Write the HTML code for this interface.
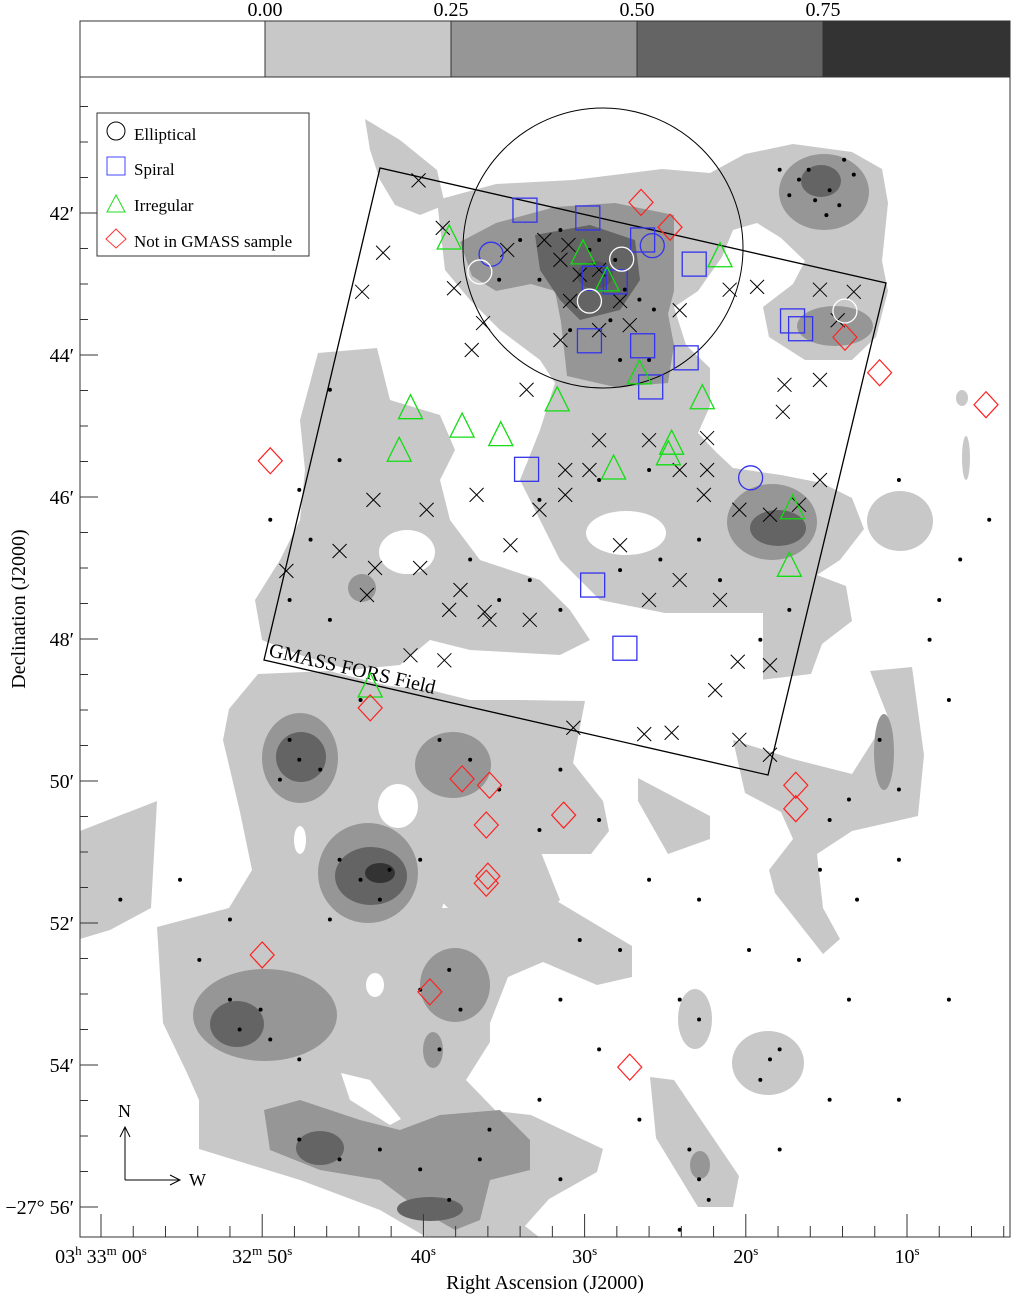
<!DOCTYPE html>
<html><head><meta charset="utf-8"><style>
html,body{margin:0;padding:0;background:#fff;}
svg{display:block;font-family:"Liberation Serif",serif;}
</style></head><body>
<svg id="chart" width="1011" height="1295" viewBox="0 0 1011 1295" xmlns="http://www.w3.org/2000/svg">
<defs><clipPath id="pc"><rect x="80" y="77" width="930" height="1160"/></clipPath></defs>
<g id="colorbar">
 <rect x="80" y="21" width="185" height="56" fill="#ffffff" stroke="#333"/>
 <rect x="265" y="21" width="186" height="56" fill="#c8c8c8" stroke="#333"/>
 <rect x="451" y="21" width="186" height="56" fill="#969696" stroke="#333"/>
 <rect x="637" y="21" width="186" height="56" fill="#646464" stroke="#333"/>
 <rect x="823" y="21" width="187" height="56" fill="#333333" stroke="#333"/>
 <g font-size="20" text-anchor="middle" fill="#000">
  <text x="265" y="16">0.00</text>
  <text x="451" y="16">0.25</text>
  <text x="637" y="16">0.50</text>
  <text x="823" y="16">0.75</text>
 </g>
</g>
<g clip-path="url(#pc)">
 <g fill="#c8c8c8">
  <path d="M365,119 L400,140 L437,170 L445,205 L420,215 L395,205 L380,180 L370,150Z"/>
  <path d="M437,200 L496,184 L573,180 L662,169 L710,173 L745,154 L793,144 L852,152 L882,169 L888,203 L882,261 L888,291 L876,337 L852,360 L805,360 L769,337 L763,307 L793,284 L805,261 L781,238 L757,223 L733,230 L722,257 L698,291 L674,307 L686,345 L710,368 L710,406 L698,433 L716,452 L733,468 L781,475 L822,483 L852,498 L864,529 L840,560 L817,575 L846,586 L852,621 L822,644 L811,674 L760,680 L720,660 L700,620 L650,610 L600,600 L560,560 L540,520 L520,480 L540,430 L555,383 L540,360 L500,330 L470,300 L445,270Z"/>
  <path d="M318,353 L377,348 L390,400 L440,415 L455,450 L440,480 L450,520 L480,560 L540,580 L570,610 L590,640 L560,655 L470,650 L430,640 L400,665 L350,670 L300,655 L262,640 L255,600 L280,560 L300,520 L305,470 L300,420Z"/>
  <path d="M229,709 L258,674 L329,671 L389,686 L430,690 L470,700 L520,700 L585,701 L573,763 L603,801 L609,831 L591,854 L531,854 L496,847 L454,870 L442,908 L466,908 L531,877 L555,900 L632,946 L632,977 L597,985 L543,962 L508,977 L490,1023 L490,1042 L466,1080 L496,1111 L531,1115 L603,1149 L597,1172 L549,1199 L525,1226 L549,1245 L440,1245 L380,1210 L300,1180 L199,1149 L199,1100 L187,1073 L163,1023 L157,927 L229,908 L252,870 L240,812 L223,740Z"/>
  <path d="M440,840 L540,850 L560,900 L530,930 L470,930 L440,900Z"/>
  <path d="M80,831 L157,801 L151,908 L110,930 L80,939Z"/>
  <path d="M638,778 L710,816 L710,839 L668,854 L638,801Z"/>
  <path d="M733,740 L793,759 L852,774 L888,717 L870,671 L912,667 L924,755 L918,816 L852,831 L817,854 L823,908 L840,939 L823,954 L775,893 L769,870 L793,839 L781,812 L745,793Z"/>
  <ellipse cx="695" cy="1019" rx="17" ry="30"/>
  <ellipse cx="768" cy="1063" rx="36" ry="32"/>
  <path d="M650,1077 L674,1080 L739,1176 L733,1207 L698,1207 L656,1138Z"/>
  <ellipse cx="900" cy="521" rx="33" ry="30"/>
  <ellipse cx="962" cy="398" rx="6" ry="8"/>
  <ellipse cx="966" cy="458" rx="4" ry="22"/>
 </g>
 <g fill="#fff">
  <ellipse cx="626" cy="533" rx="40" ry="22"/>
  <ellipse cx="495" cy="458" rx="33" ry="20"/>
  <ellipse cx="407" cy="552" rx="28" ry="22"/>
  <path d="M615,613 L763,613 L763,680 L615,680Z"/>
  <ellipse cx="398" cy="806" rx="20" ry="22"/>
  <ellipse cx="375" cy="985" rx="9" ry="12"/>
  <ellipse cx="300" cy="840" rx="6" ry="14"/>
  <path d="M341,1073 L370,1080 L401,1119 L390,1125 L350,1100Z"/>
 </g>
 <g fill="#969696">
  <path d="M460,242 L496,223 L555,207 L615,203 L674,215 L674,291 L668,314 L674,345 L668,383 L615,387 L567,376 L561,322 L555,291 L531,284 L496,291 L472,276Z"/>
  <ellipse cx="824" cy="192" rx="45" ry="38"/>
  <ellipse cx="835" cy="326" rx="38" ry="20"/>
  <ellipse cx="772" cy="522" rx="45" ry="38"/>
  <ellipse cx="362" cy="588" rx="14" ry="14"/>
  <ellipse cx="300" cy="758" rx="38" ry="45"/>
  <ellipse cx="453" cy="765" rx="38" ry="33"/>
  <ellipse cx="368" cy="873" rx="50" ry="50"/>
  <ellipse cx="455" cy="985" rx="35" ry="37"/>
  <ellipse cx="265" cy="1015" rx="72" ry="46"/>
  <path d="M264,1110 L300,1100 L360,1120 L400,1130 L440,1115 L500,1110 L530,1140 L530,1170 L490,1180 L480,1220 L455,1230 L420,1210 L380,1180 L320,1170 L270,1150Z"/>
  <ellipse cx="884" cy="752" rx="10" ry="38"/>
  <ellipse cx="433" cy="1050" rx="10" ry="18"/>
  <ellipse cx="700" cy="1165" rx="10" ry="14"/>
 </g>
 <g fill="#646464">
  <path d="M535,235 L590,225 L635,240 L640,280 L620,310 L580,320 L560,300 L540,270Z"/>
  <ellipse cx="821" cy="181" rx="20" ry="16"/>
  <ellipse cx="778" cy="528" rx="28" ry="18"/>
  <ellipse cx="301" cy="757" rx="25" ry="25"/>
  <ellipse cx="371" cy="876" rx="36" ry="29"/>
  <ellipse cx="237" cy="1024" rx="27" ry="23"/>
  <ellipse cx="320" cy="1148" rx="24" ry="17"/>
  <ellipse cx="430" cy="1209" rx="33" ry="12"/>
 </g>
 <g fill="#333"><ellipse cx="380" cy="873" rx="15" ry="10"/><ellipse cx="595" cy="275" rx="18" ry="14" fill="#555"/></g>
</g>
<g id="overlays" fill="none" stroke="#000">
 <polygon points="380,168 886,283 768,775 264,660" stroke-width="1.3"/>
 <circle cx="603" cy="248" r="140" stroke-width="1"/>
 <text x="268" y="656" font-size="20" fill="#000" stroke="none" transform="rotate(12.9 268 656)">GMASS FORS Field</text>
</g>
<g id="marks" clip-path="url(#pc)"></g>
<g id="axes"></g>
<g>
 <rect x="97" y="113" width="212" height="143" fill="#fff" stroke="#333"/>
 <circle cx="116" cy="131" r="9" fill="none" stroke="#000"/>
 <text x="134" y="140" font-size="17">Elliptical</text>
 <rect x="107" y="157" width="18" height="18" fill="none" stroke="#4444ff"/>
 <text x="134" y="175" font-size="17">Spiral</text>
 <polygon points="116,195 107,212 125,212" fill="none" stroke="#22dd22"/>
 <text x="134" y="211" font-size="17">Irregular</text>
 <polygon points="116,229 126,239 116,248 106,239" fill="none" stroke="#ff3333"/>
 <text x="134" y="247" font-size="17">Not in GMASS sample</text>
</g>
<g stroke="#000" fill="none">
 <path d="M125,1180 L125,1127 M120,1137 L125,1127 L130,1137 M125,1180 L180,1180 M170,1175 L180,1180 L170,1185"/>
 <text x="118" y="1117" font-size="18" fill="#000" stroke="none">N</text>
 <text x="189" y="1186" font-size="18" fill="#000" stroke="none">W</text>
</g>
</svg>
<script>
// RA = seconds after 03h32m (60 = 03h33m00s); Dec = arcmin below -27°
const ellBlueRA=[35.8,25.8,19.7], ellBlueDec=[42.58,42.46,45.73];
const ellWhiteRA=[27.7,29.7,13.85,36.5], ellWhiteDec=[42.65,43.24,43.38,42.83];
const spiralRA=[33.7,29.8,26.4,23.2,28.1,29.4,17.1,16.6,29.7,26.4,23.7,25.9,33.6,29.5,27.5];
const spiralDec=[41.96,42.07,42.38,42.72,42.97,42.92,43.52,43.63,43.8,43.87,44.04,44.45,45.61,47.24,48.13];
const irrRA=[38.4,30.1,28.6,21.6,26.6,22.7,31.7,40.8,37.6,35.2,41.5,24.6,24.8,28.2,17.1,17.3,43.3];
const irrDec=[42.38,42.59,42.97,42.63,44.28,44.63,44.66,44.77,45.03,45.15,45.37,45.27,45.42,45.62,46.18,46.99,48.69];
const notRA=[26.4,26.5,24.7,13.85,11.7,5.1,49.5,43.3,37.6,35.9,36.1,31.3,16.9,16.9,36.0,36.1,50.0,39.6,27.2];
const notDec=[39.07,41.85,42.2,43.75,44.25,44.70,45.49,48.97,49.97,50.06,50.62,50.48,50.06,50.39,51.34,51.44,52.45,52.97,54.03];
const crossRA=[40.3,38.8,42.5,43.8,38.1,36.3,37.0,34.8,32.5,31.5,31.0,30.9,30.3,29.1,27.8,27.2,31.5,29.1,24.1,21.0,19.3,15.4,13.3,14.3,17.6,15.4,17.7,33.6,29.1,26.0,22.4,24.1,22.6,22.4,20.4,18.5,16.7,15.4,29.7,31.2,32.8,31.2,36.7,39.8,43.1,43.0,43.5,45.2,48.5,40.2,37.7,36.2,38.4,35.9,33.4,34.6,38.7,40.8,30.7,26.3,24.6,21.9,20.5,18.5,20.4,18.5,27.8,24.1,21.6,26.0];
const crossDec=[41.54,42.21,42.56,43.11,43.06,43.55,43.93,42.52,42.38,42.66,42.45,43.24,42.87,42.80,43.24,43.58,43.79,43.65,43.37,43.08,43.04,43.08,43.11,43.51,44.42,44.35,44.80,44.49,45.20,45.20,45.17,45.62,45.97,45.62,46.18,46.25,46.11,45.76,45.62,45.62,46.18,45.97,45.97,46.18,46.04,47.00,47.38,46.76,47.04,47.00,47.31,47.62,47.59,47.73,47.73,46.68,48.30,48.23,49.25,49.34,49.32,48.72,48.32,48.37,49.42,49.63,46.68,47.17,47.45,47.45];
const dotRA=[16.7,16.1,14.8,15.7,14.2,13.3,17.3,15.0,13.9,17.9,31.5,29.7,29.1,28.1,27.5,26.6,30.9,28.4,25.7,32.8,34.0,35.3,27.8,26.0,37.1,35.3,33.4,31.5,27.8,25.3,22.9,21.6,19.1,17.3,26.0,29.1,32.8,47.7,47.0,48.3,45.8,49.5,45.2,45.8,48.3,47.7,48.9,46.4,43.9,39.0,37.1,35.3,31.5,32.8,29.1,45.2,43.9,42.1,42.7,40.2,45.8,50.1,51.4,49.5,52.0,47.7,40.2,38.4,37.7,39.0,47.7,45.2,42.7,40.2,38.4,35.9,36.5,52.0,55.1,58.8,53.9,24.1,22.9,18.5,19.1,17.9,23.5,22.9,22.3,26.6,13.6,11.7,10.5,14.8,15.4,13.1,10.5,7.4,8.6,6.7,4.9,10.5,8.0,27.8,30.3,31.5,29.1,32.8,26.0,22.9,19.8,16.7,13.6,14.8,17.9,24.1,31.5,10.5,7.4];
const dotDec=[41.53,41.39,41.68,41.82,41.89,41.46,41.75,42.03,41.25,41.39,42.24,42.52,42.38,42.66,43.08,43.22,43.65,43.51,43.36,42.94,42.38,42.94,44.07,44.07,46.88,47.45,47.17,47.59,47.03,46.88,46.60,47.17,48.01,47.59,45.62,45.76,46.04,45.90,46.60,47.45,47.73,46.32,45.48,44.49,49.42,49.70,49.98,49.84,48.86,49.42,49.70,50.12,49.84,50.69,50.55,51.11,51.39,51.25,51.67,51.11,51.95,53.22,53.50,53.64,53.08,53.92,52.94,52.66,53.22,53.78,55.05,55.33,55.19,55.47,55.90,54.91,55.33,51.95,51.39,51.67,52.52,53.08,53.36,53.92,54.21,53.78,55.19,55.61,55.90,54.77,50.26,49.42,50.12,50.55,51.25,51.67,51.11,48.86,48.01,46.88,46.32,45.76,47.45,52.38,52.24,53.08,53.78,54.49,51.39,51.67,52.38,52.52,53.08,54.49,55.19,56.32,55.61,54.49,53.08];
const decTicks=[42,44,46,48,50,52,54,56];
const decLabels=["42′","44′","46′","48′","50′","52′","54′","−27° 56′"];
const raTicks=[60,50,40,30,20,10];
const raLabels=[["03","h"," 33","m"," 00","s"],["32","m"," 50","s"],["40","s"],["30","s"],["20","s"],["10","s"]];

const X=ra=>101+(60-ra)*16.12;
const Y=dec=>213+(dec-42)*71;
const NS="http://www.w3.org/2000/svg";
const marks=document.getElementById('marks');
const axes=document.getElementById('axes');
function mk(tag,attrs,parent){const e=document.createElementNS(NS,tag);for(const k in attrs)e.setAttribute(k,attrs[k]);parent.appendChild(e);return e;}

for(let i=0;i<dotRA.length;i++){
 const e=mk('circle',{cx:X(dotRA[i]),cy:Y(dotDec[i]),r:2,fill:'#000'},marks);
 
 
}
for(let i=0;i<crossRA.length;i++){
 const x=X(crossRA[i]),y=Y(crossDec[i]),s=7;
 const e=mk('path',{d:`M${x-s},${y-s}L${x+s},${y+s}M${x+s},${y-s}L${x-s},${y+s}`,stroke:'#000','stroke-width':1,fill:'none'},marks);
 
 
}
for(let i=0;i<spiralRA.length;i++){
 const x=X(spiralRA[i]),y=Y(spiralDec[i]);
 const e=mk('rect',{x:x-12,y:y-12,width:24,height:24,fill:'none',stroke:'#3333ee','stroke-width':1.3},marks);
 
 
}
for(let i=0;i<irrRA.length;i++){
 const x=X(irrRA[i]),y=Y(irrDec[i]);
 const e=mk('polygon',{points:`${x},${y-15} ${x-12},${y+9} ${x+12},${y+9}`,fill:'none',stroke:'#11dd11','stroke-width':1.3},marks);
 
 
}
for(let i=0;i<ellBlueRA.length;i++){
 const e=mk('circle',{cx:X(ellBlueRA[i]),cy:Y(ellBlueDec[i]),r:12,fill:'none',stroke:'#3333ee','stroke-width':1.3},marks);
 
 
}
for(let i=0;i<ellWhiteRA.length;i++){
 const e=mk('circle',{cx:X(ellWhiteRA[i]),cy:Y(ellWhiteDec[i]),r:12,fill:'none',stroke:'#ffffff','stroke-width':1.3},marks);
 
 
}
for(let i=0;i<notRA.length;i++){
 const x=X(notRA[i]),y=Y(notDec[i]);
 const e=mk('polygon',{points:`${x},${y-13} ${x+12},${y} ${x},${y+13} ${x-12},${y}`,fill:'none',stroke:'#ff2222','stroke-width':1.2},marks);
 
 
}
const fr=mk('rect',{x:80,y:77,width:930,height:1160,fill:'none',stroke:'#333','stroke-width':1},axes);


for(let d=39.5;d<=57;d+=0.5){
 const y=Y(d); if(y<77||y>1237)continue;
 const major=Math.abs(d-Math.round(d))<1e-6&&Math.round(d)%2===0;
 mk('line',{x1:80,x2:80+(major?18:8),y1:y,y2:y,stroke:'#333'},axes);
}
for(let i=0;i<decTicks.length;i++){
 const t=mk('text',{x:74,y:Y(decTicks[i])+7,'font-size':20,'text-anchor':'end'},axes);
 t.textContent=decLabels[i];
 
 
}
for(let r=60;r>=2;r-=2){
 const x=X(r); if(x<80||x>1010)continue;
 const major=r%10===0;
 mk('line',{x1:x,x2:x,y1:1237,y2:1237-(major?23:11),stroke:'#333'},axes);
}
for(let i=0;i<raTicks.length;i++){
 const t=mk('text',{x:X(raTicks[i]),y:1263,'font-size':20,'text-anchor':'middle'},axes);
 
 
 const parts=raLabels[i];
 for(let j=0;j<parts.length;j+=2){
  const a=document.createElementNS(NS,'tspan');a.textContent=parts[j];a.setAttribute('dy',j?'8':'0');t.appendChild(a);
  const b=document.createElementNS(NS,'tspan');b.textContent=parts[j+1];b.setAttribute('font-size','13');b.setAttribute('dy','-8');t.appendChild(b);
 }
}
const xt=mk('text',{x:545,y:1289,'font-size':20,'text-anchor':'middle'},axes);
xt.textContent='Right Ascension (J2000)';


const yt=mk('text',{x:25,y:609,'font-size':20,'text-anchor':'middle',transform:'rotate(-90 25 609)'},axes);
yt.textContent='Declination (J2000)';


</script>
</body></html>
